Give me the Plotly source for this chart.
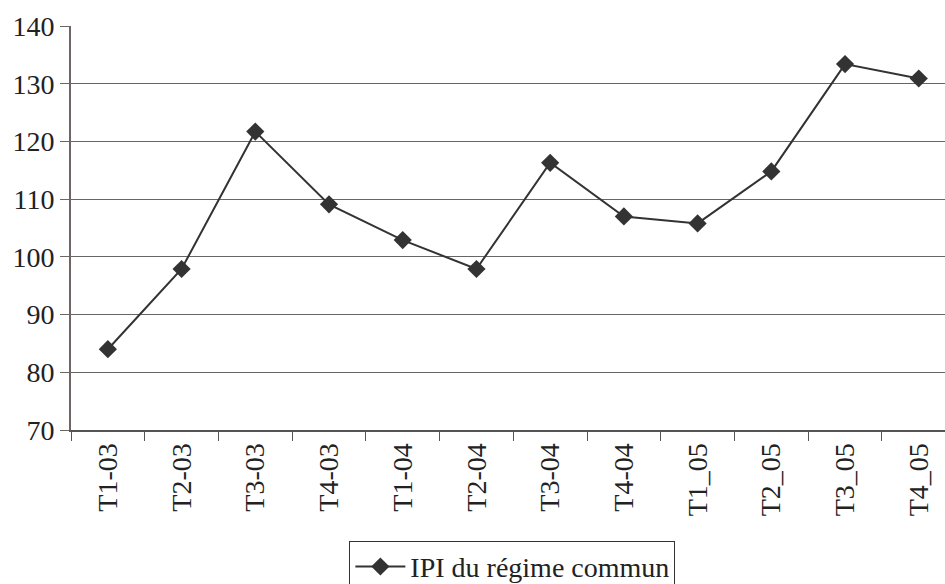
import plotly.graph_objects as go

categories = ["T1-03", "T2-03", "T3-03", "T4-03", "T1-04", "T2-04",
              "T3-04", "T4-04", "T1_05", "T2_05", "T3_05", "T4_05"]
ipi_values = [84.0, 97.9, 121.7, 109.1, 102.9, 97.9,
              116.3, 107.0, 105.8, 114.8, 133.4, 130.9]
y_ticks = [70, 80, 90, 100, 110, 120, 130, 140]

FONT = "Liberation Serif, Times New Roman, serif"

fig = go.Figure()
fig.add_trace(go.Scatter(
    x=categories, y=ipi_values, mode="lines+markers",
    name="IPI du régime commun",
    line=dict(color="#333333", width=2),
    marker=dict(symbol="diamond", size=14, color="#333333"),
))

fig.update_layout(
    width=945, height=584,
    margin=dict(l=71, r=0, t=26, b=154, autoexpand=False),
    paper_bgcolor="white", plot_bgcolor="white",
    font=dict(family=FONT, size=28, color="#222222"),
    showlegend=True,
    legend=dict(
        orientation="h", x=0.505, xanchor="center",
        yref="container", y=0.074, yanchor="top",
        bordercolor="#333333", borderwidth=1, bgcolor="white",
        font=dict(family=FONT, size=28, color="#222222"),
        itemwidth=50,
    ),
    xaxis=dict(
        type="category", range=[-0.5, 11.356], automargin=False,
        tickson="boundaries", ticks="outside", ticklen=9, tickcolor="#555555",
        tickangle=-90, showgrid=False,
        showline=True, linecolor="#555555", linewidth=2,
        tickfont=dict(family=FONT, size=28, color="#222222"),
    ),
    yaxis=dict(
        range=[70, 140], tickvals=y_ticks, ticks="outside", ticklen=9,
        automargin=False,
        tickcolor="#6e6565", showline=True, linecolor="#6e6565", linewidth=2,
        showgrid=True, gridcolor="#666666", gridwidth=1, zeroline=False,
        tickfont=dict(family=FONT, size=28, color="#222222"),
    ),
)

fig.write_html("out.html", config={"displayModeBar": False},
               post_script="document.body.style.margin='0';")
